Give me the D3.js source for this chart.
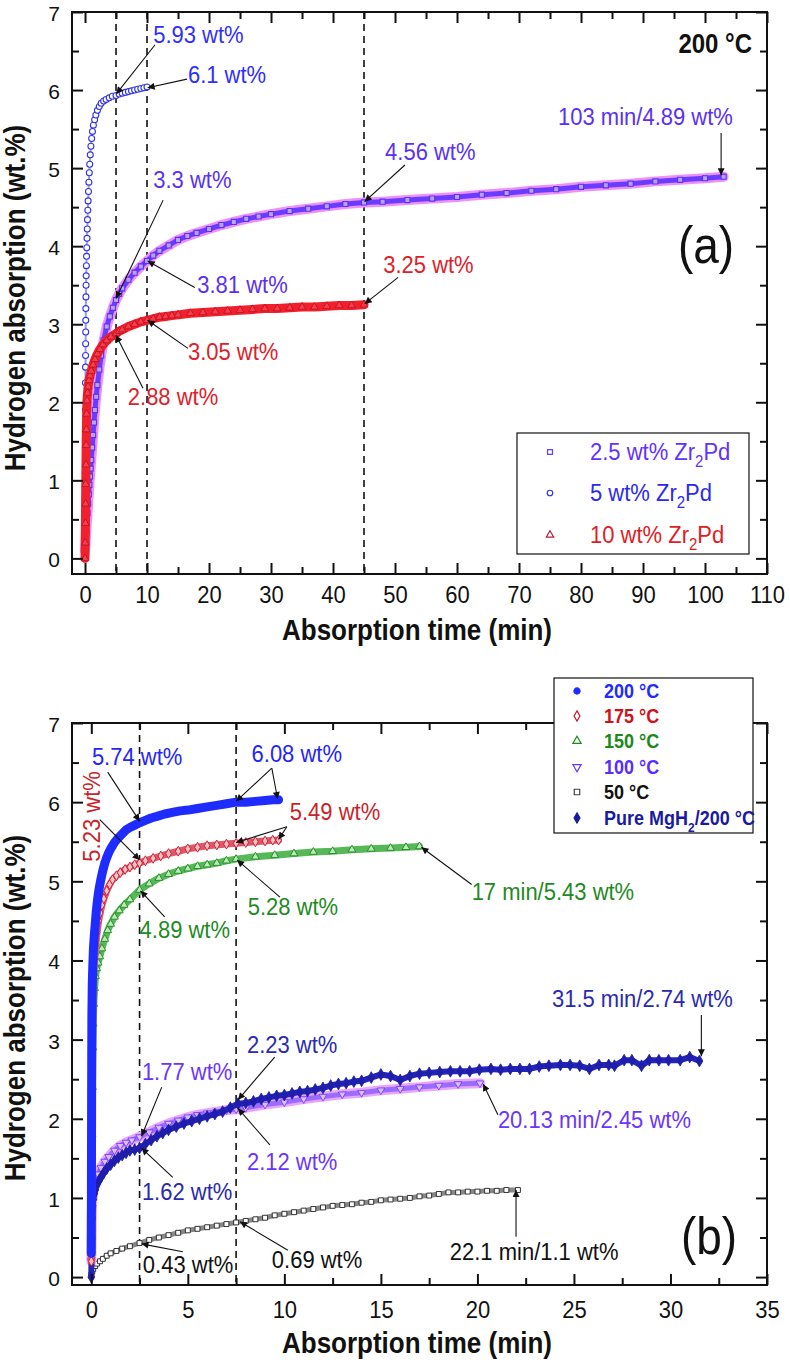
<!DOCTYPE html>
<html><head><meta charset="utf-8">
<script src="https://cdn.jsdelivr.net/npm/d3@7"></script>
<style>body{margin:0;background:#fff} svg{display:block} text{font-family:"Liberation Sans",Arial,Helvetica,sans-serif}</style>
</head><body><svg id="c" width="790" height="1362"></svg>
<script>
// ---------- DATA: panel (a) ----------
const xTicksA = [0,10,20,30,40,50,60,70,80,90,100,110];
const xMinorA = [5,15,25,35,45,55,65,75,85,95,105];
const yTicks = [0,1,2,3,4,5,6,7];
const yMinor = [0.5,1.5,2.5,3.5,4.5,5.5,6.5];
const dashA = [5,10,45];
const seriesNamesA = ["2.5 wt% Zr", "5 wt% Zr", "10 wt% Zr"];
const zr25 = [[0,0.1],[0.1,0.22],[0.2,0.34],[0.3,0.46],[0.4,0.58],[0.5,0.7],[0.6,0.82],[0.7,0.94],[0.8,1.05],[0.9,1.15],[1.0,1.26],[1.15,1.42],[1.3,1.58],[1.45,1.74],[1.6,1.9],[1.8,2.07],[2.0,2.22],[2.3,2.42],[2.6,2.6],[3.0,2.79],[3.5,2.97],[4.0,3.1],[4.5,3.21],[5.0,3.31],[5.5,3.39],[6,3.46],[7,3.57],[8,3.66],[9,3.74],[10,3.81],[11,3.88],[12,3.94],[13.5,4.01],[15,4.08],[16.5,4.13],[18,4.17],[20,4.22],[22,4.27],[24,4.31],[26,4.35],[28,4.38],[30,4.41],[33,4.45],[36,4.48],[39,4.51],[42,4.54],[45,4.56],[48,4.57],[52,4.59],[56,4.61],[60,4.63],[64,4.66],[68,4.68],[72,4.71],[76,4.73],[80,4.76],[84,4.78],[88,4.8],[92,4.83],[96,4.85],[100,4.87],[103,4.89]];
const zr5 = [[0,0.12],[0.02,0.45],[0.03,0.85],[0.04,1.1],[0.05,1.5],[0.06,1.9],[0.07,2.25],[0.08,2.45],[0.09,2.6],[0.1,2.75],[0.11,2.9],[0.12,3.05],[0.13,3.2],[0.15,3.35],[0.17,3.5],[0.19,3.62],[0.22,3.75],[0.25,3.87],[0.28,3.98],[0.32,4.1],[0.36,4.22],[0.4,4.34],[0.45,4.46],[0.5,4.58],[0.56,4.7],[0.62,4.82],[0.69,4.94],[0.76,5.05],[0.85,5.17],[0.95,5.28],[1.07,5.38],[1.2,5.47],[1.35,5.55],[1.55,5.62],[1.75,5.68],[2.0,5.74],[2.3,5.79],[2.6,5.83],[3.0,5.86],[3.4,5.88],[3.9,5.9],[4.4,5.92],[5.0,5.93],[5.5,5.95],[6.0,5.96],[6.5,5.97],[7.0,5.98],[7.5,5.99],[8.0,6.0],[8.5,6.01],[9.0,6.02],[9.5,6.03],[10.0,6.04]];
const zr10 = [[0,0],[0.03,0.2],[0.06,0.45],[0.09,0.7],[0.12,0.95],[0.15,1.2],[0.18,1.45],[0.22,1.65],[0.26,1.85],[0.32,2.02],[0.4,2.12],[0.5,2.2],[0.65,2.28],[0.8,2.34],[1.0,2.4],[1.3,2.48],[1.6,2.55],[2.0,2.62],[2.4,2.68],[2.9,2.74],[3.5,2.79],[4.2,2.84],[5.0,2.88],[5.5,2.91],[6.0,2.93],[7.0,2.97],[8.0,3.0],[9.0,3.03],[10,3.05],[11,3.07],[12,3.09],[13,3.1],[14,3.11],[15,3.12],[17,3.14],[19,3.15],[21,3.16],[23,3.17],[25,3.18],[27,3.19],[29,3.2],[31,3.2],[33,3.21],[35,3.22],[37,3.22],[39,3.23],[41,3.24],[43,3.24],[45,3.25]];

// ---------- DATA: panel (b) ----------
const xTicksB = [0,5,10,15,20,25,30,35];
const xMinorB = [2.5,7.5,12.5,17.5,22.5,27.5,32.5];
const dashB = [2.5,7.5];
const seriesNamesB = ["200 °C","175 °C","150 °C","100 °C","50 °C","Pure MgH"];
const t200 = [[0,0.3],[0.01,1.6],[0.02,2.6],[0.03,3.3],[0.05,3.7],[0.08,3.95],[0.11,4.15],[0.15,4.3],[0.2,4.45],[0.25,4.6],[0.3,4.72],[0.35,4.82],[0.4,4.9],[0.5,5.03],[0.6,5.14],[0.7,5.23],[0.8,5.3],[0.9,5.36],[1.0,5.41],[1.2,5.49],[1.4,5.55],[1.6,5.6],[1.8,5.65],[2.0,5.68],[2.25,5.71],[2.5,5.74],[2.8,5.77],[3.1,5.8],[3.4,5.82],[3.8,5.85],[4.2,5.87],[4.6,5.89],[5.0,5.9],[5.5,5.92],[6.0,5.94],[6.5,5.96],[7.0,5.98],[7.5,6.0],[8.0,6.0],[8.5,6.01],[9.0,6.02],[9.4,6.03],[9.7,6.03]];
const t175 = [[0,0.2],[0.02,1.0],[0.04,1.9],[0.06,2.7],[0.08,3.3],[0.1,3.7],[0.14,3.9],[0.18,4.02],[0.24,4.2],[0.3,4.35],[0.38,4.5],[0.46,4.6],[0.55,4.7],[0.65,4.78],[0.8,4.88],[0.95,4.96],[1.1,5.02],[1.3,5.07],[1.5,5.11],[1.75,5.15],[2.0,5.18],[2.25,5.21],[2.5,5.23],[2.8,5.26],[3.2,5.29],[3.6,5.32],[4.0,5.35],[4.5,5.38],[5.0,5.41],[5.5,5.43],[6.0,5.45],[6.5,5.46],[7.0,5.47],[7.5,5.48],[8.0,5.49],[8.5,5.5],[9.0,5.51],[9.4,5.52],[9.7,5.52]];
const t150 = [[0,0.3],[0.02,1.1],[0.04,1.8],[0.06,2.4],[0.08,2.9],[0.1,3.2],[0.13,3.45],[0.17,3.65],[0.22,3.8],[0.28,3.9],[0.35,3.97],[0.44,4.05],[0.55,4.15],[0.7,4.27],[0.85,4.38],[1.0,4.46],[1.2,4.55],[1.45,4.63],[1.7,4.7],[2.0,4.77],[2.5,4.89],[3.0,4.97],[3.5,5.04],[4.0,5.09],[4.5,5.13],[5.0,5.16],[5.5,5.19],[6.0,5.21],[6.5,5.23],[7.0,5.26],[7.5,5.28],[8.5,5.31],[9.5,5.33],[10.5,5.35],[11.5,5.37],[12.5,5.38],[13.5,5.4],[14.5,5.41],[15.5,5.42],[16.3,5.43],[17.0,5.44]];
const t100 = [[0,0.2],[0.01,0.45],[0.02,0.7],[0.03,0.85],[0.05,0.95],[0.08,1.03],[0.12,1.1],[0.18,1.17],[0.25,1.23],[0.35,1.3],[0.5,1.38],[0.7,1.46],[0.9,1.52],[1.2,1.6],[1.5,1.66],[1.8,1.7],[2.1,1.73],[2.5,1.77],[3.0,1.83],[3.5,1.89],[4.0,1.94],[4.5,1.98],[5.0,2.02],[5.5,2.05],[6.0,2.07],[6.5,2.09],[7.0,2.11],[7.5,2.12],[8.0,2.14],[9.0,2.18],[10.0,2.21],[11.0,2.25],[12.0,2.28],[13.0,2.31],[14.0,2.33],[15.0,2.36],[16.0,2.38],[17.0,2.4],[18.0,2.42],[19.0,2.44],[20.13,2.45]];
const t50 = [[0,0.03],[0.05,0.07],[0.1,0.1],[0.2,0.14],[0.3,0.17],[0.45,0.2],[0.6,0.23],[0.8,0.27],[1.0,0.3],[1.3,0.33],[1.6,0.36],[2.0,0.39],[2.5,0.43],[3.0,0.47],[3.5,0.5],[4.0,0.53],[4.5,0.56],[5.0,0.59],[5.5,0.61],[6.0,0.63],[6.5,0.65],[7.0,0.67],[7.5,0.69],[8.0,0.71],[8.5,0.73],[9.0,0.75],[9.5,0.78],[10,0.8],[10.5,0.82],[11,0.84],[11.5,0.86],[12,0.88],[12.5,0.9],[13,0.91],[13.5,0.92],[14,0.94],[14.5,0.95],[15,0.97],[15.5,0.98],[16,0.99],[16.5,1.0],[17,1.02],[17.5,1.03],[18,1.05],[18.5,1.07],[19,1.07],[19.5,1.08],[20,1.08],[20.5,1.09],[21,1.09],[21.5,1.1],[22.1,1.1]];
const mgh2 = [[0,0.0],[0.01,0.25],[0.02,0.5],[0.04,0.75],[0.07,0.9],[0.1,0.98],[0.15,1.05],[0.2,1.1],[0.3,1.17],[0.4,1.22],[0.5,1.26],[0.65,1.32],[0.8,1.37],[1.0,1.42],[1.2,1.47],[1.4,1.51],[1.6,1.54],[1.8,1.57],[2.0,1.6],[2.25,1.61],[2.5,1.63],[2.8,1.68],[3.1,1.73],[3.4,1.78],[3.7,1.82],[4.0,1.86],[4.4,1.9],[4.8,1.94],[5.2,1.97],[5.6,2.0],[6.0,2.03],[6.4,2.06],[6.8,2.09],[7.2,2.14],[7.6,2.19],[8.0,2.2],[8.4,2.22],[8.8,2.25],[9.2,2.27],[9.6,2.29],[10.0,2.3],[10.4,2.32],[10.8,2.34],[11.2,2.35],[11.6,2.37],[12.0,2.39],[12.4,2.42],[12.8,2.44],[13.2,2.45],[13.6,2.47],[14.0,2.48],[14.5,2.52],[15.0,2.56],[15.5,2.54],[16.0,2.49],[16.5,2.54],[17.0,2.57],[17.5,2.58],[18.05,2.59],[18.6,2.6],[19.1,2.6],[19.6,2.6],[20.1,2.62],[20.7,2.63],[21.2,2.62],[21.7,2.63],[22.2,2.63],[22.7,2.63],[23.2,2.66],[23.7,2.67],[24.3,2.68],[24.8,2.68],[25.3,2.67],[25.8,2.63],[26.3,2.68],[26.8,2.68],[27.1,2.67],[27.6,2.74],[28.0,2.74],[28.5,2.67],[28.9,2.74],[29.4,2.74],[29.9,2.74],[30.5,2.74],[31.0,2.78],[31.5,2.73]];

// ---------- annotations (data coordinates) ----------
const annA = [
  {txt:"5.93 wt%", col:"#2f2fff", at:[11.0,6.6], from:[11.3,6.58], to:[[5.05,5.95]]},
  {txt:"6.1 wt%", col:"#2f2fff", at:[16.6,6.09], from:[16.45,6.14], to:[[10.1,6.03]]},
  {txt:"3.3 wt%", col:"#5a30f5", at:[11.0,4.74], from:[12.6,4.59], to:[[5.0,3.33]]},
  {txt:"3.81 wt%", col:"#5a30f5", at:[18.1,3.4], from:[17.7,3.47], to:[[10.1,3.81]]},
  {txt:"4.56 wt%", col:"#5a30f5", at:[48.4,5.1], from:[51.6,5.04], to:[[45.1,4.57]]},
  {txt:"103 min/4.89 wt%", col:"#5a30f5", at:[76.3,5.55], from:[102.6,5.45], to:[[102.6,4.91]]},
  {txt:"3.25 wt%", col:"#e0202a", at:[48.1,3.65], from:[50.5,3.6], to:[[45.1,3.26]]},
  {txt:"3.05 wt%", col:"#e0202a", at:[16.6,2.54], from:[16.6,2.69], to:[[10.1,3.05]]},
  {txt:"2.88 wt%", col:"#e0202a", at:[6.9,1.96], from:[9.35,2.18], to:[[5.0,2.86]]}
];
const annB = [
  {txt:"5.74 wt%", col:"#2424ff", at:[0.03,6.47], from:[0.85,6.38], to:[[2.5,5.76]]},
  {txt:"6.08 wt%", col:"#2424ff", at:[8.3,6.51], from:[9.35,6.43], to:[[7.5,6.01],[9.65,6.04]]},
  {txt:"5.23 wt%", col:"#cc1f2a", at:[0.44,5.82], rot:true, from:[0.44,5.78], to:[[2.5,5.27]]},
  {txt:"5.49 wt%", col:"#cc1f2a", at:[10.28,5.78], from:[10.13,5.69], to:[[7.5,5.49],[9.7,5.53]]},
  {txt:"5.28 wt%", col:"#1f8a1f", at:[8.1,4.58], from:[9.77,4.8], to:[[7.55,5.27]]},
  {txt:"4.89 wt%", col:"#1f8a1f", at:[2.5,4.29], from:[3.8,4.55], to:[[2.55,4.88]]},
  {txt:"17 min/5.43 wt%", col:"#1f8a1f", at:[19.7,4.77], from:[19.7,4.96], to:[[17.1,5.43]]},
  {txt:"31.5 min/2.74 wt%", col:"#2a2ab0", at:[23.86,3.41], from:[31.6,3.31], to:[[31.6,2.79]]},
  {txt:"20.13 min/2.45 wt%", col:"#6a35ff", at:[21.06,1.88], from:[21.06,2.05], to:[[20.3,2.44]]},
  {txt:"22.1 min/1.1 wt%", col:"#111111", at:[18.57,0.21], from:[22.0,0.51], to:[[22.0,1.1]]},
  {txt:"2.23 wt%", col:"#2a2ab0", at:[8.06,2.83], from:[9.5,2.78], to:[[7.6,2.24]]},
  {txt:"1.77 wt%", col:"#6a35ff", at:[2.62,2.49], from:[3.65,2.4], to:[[2.6,1.78]]},
  {txt:"2.12 wt%", col:"#6a35ff", at:[8.06,1.35], from:[9.25,1.67], to:[[7.6,2.13]]},
  {txt:"1.62 wt%", col:"#2a2ab0", at:[2.62,0.97], from:[4.22,1.26], to:[[2.6,1.63]]},
  {txt:"0.43 wt%", col:"#111111", at:[2.67,0.05], from:[4.74,0.32], to:[[2.6,0.42]]},
  {txt:"0.69 wt%", col:"#111111", at:[9.35,0.11], from:[10.18,0.34], to:[[7.7,0.7]]}
];

// ---------- drawing ----------
const SY = 1.12; // vertical glyph stretch seen in the reference
const svg = d3.select("#c");
svg.append("rect").attr("width",790).attr("height",1362).attr("fill","#fff");
const defs = svg.append("defs");
defs.append("marker").attr("id","arr").attr("viewBox","0 0 10 10").attr("refX",10).attr("refY",5)
  .attr("markerWidth",9).attr("markerHeight",7).attr("markerUnits","userSpaceOnUse").attr("orient","auto")
  .append("path").attr("d","M0,0L10,5L0,10z").attr("fill","#111");

function label(g, x, y, txt, o) {
  const t = g.append("text").attr("transform",`translate(${x},${y})${o.rot?" rotate(-90)":""} scale(1,${SY})`)
    .attr("font-size",o.size).attr("fill",o.col||"#111").attr("text-anchor",o.anchor||"start");
  if (o.bold) t.attr("font-weight","bold");
  if (txt !== null) t.text(txt);
  return t;
}

function axes(g, x, y, xt, xm, L, T, R, B, pad) {
  const st = s => { s.select(".domain").remove(); s.selectAll("line").attr("stroke","#111").attr("stroke-width",2);
    s.selectAll("text").attr("font-size",22).attr("fill","#111").attr("transform",`scale(1,${SY})`)
      .attr("font-family","Liberation Sans, Arial, sans-serif"); };
  const stY = s => { s.select(".domain").remove(); s.selectAll("line").attr("stroke","#111").attr("stroke-width",2);
    s.selectAll("text").attr("font-size",21).attr("fill","#111").attr("dy","0.4em")
      .attr("font-family","Liberation Sans, Arial, sans-serif"); };
  g.append("g").attr("transform",`translate(0,${B})`).call(d3.axisBottom(x).tickValues(xt).tickSize(-11).tickPadding(pad).tickFormat(d3.format("d"))).call(st);
  g.append("g").attr("transform",`translate(0,${B})`).call(d3.axisBottom(x).tickValues(xm).tickSize(-7).tickFormat("")).call(st);
  g.append("g").attr("transform",`translate(0,${T})`).call(d3.axisTop(x).tickValues(xt).tickSize(-11).tickFormat("")).call(st);
  g.append("g").attr("transform",`translate(0,${T})`).call(d3.axisTop(x).tickValues(xm).tickSize(-7).tickFormat("")).call(st);
  g.append("g").attr("transform",`translate(${L},0)`).call(d3.axisLeft(y).tickValues(yTicks).tickSize(-11).tickPadding(12).tickFormat(d3.format("d"))).call(stY);
  g.append("g").attr("transform",`translate(${L},0)`).call(d3.axisLeft(y).tickValues(yMinor).tickSize(-7).tickFormat("")).call(st);
  g.append("g").attr("transform",`translate(${R},0)`).call(d3.axisRight(y).tickValues(yTicks).tickSize(-11).tickFormat("")).call(st);
  g.append("g").attr("transform",`translate(${R},0)`).call(d3.axisRight(y).tickValues(yMinor).tickSize(-7).tickFormat("")).call(st);
  g.append("rect").attr("x",L).attr("y",T).attr("width",R-L).attr("height",B-T).attr("fill","none").attr("stroke","#111").attr("stroke-width",2);
}

function series(g, x, y, data, o) {
  const line = d3.line().x(d=>x(d[0])).y(d=>y(d[1]));
  (o.bands||[]).forEach(b => g.append("path").attr("d",line(data)).attr("fill","none").attr("stroke",b[0]).attr("stroke-width",b[1])
      .attr("stroke-linejoin","round").attr("stroke-linecap","round").attr("opacity",b[2]||1));
  g.append("g").selectAll("path").data(data).join("path")
    .attr("transform",d=>`translate(${x(d[0])},${y(d[1])}) rotate(${o.rot||0})`)
    .attr("d", d3.symbol(o.sym, o.size)())
    .attr("fill",o.fill).attr("stroke",o.stroke).attr("stroke-width",o.sw||1);
}

function dashes(g, x, vals, T, B) {
  g.selectAll(null).data(vals).join("line").attr("x1",d=>x(d)).attr("x2",d=>x(d)).attr("y1",T).attr("y2",B)
    .attr("stroke","#111").attr("stroke-width",1.6).attr("stroke-dasharray","7,5");
}

function annotate(g, x, y, list) {
  list.forEach(a => {
    a.to.forEach(p => g.append("line").attr("x1",x(a.from[0])).attr("y1",y(a.from[1])).attr("x2",x(p[0])).attr("y2",y(p[1]))
      .attr("stroke","#111").attr("stroke-width",1.1).attr("marker-end","url(#arr)"));
    label(g, x(a.at[0]), y(a.at[1]), a.txt, {size:22, col:a.col, rot:a.rot, anchor:a.rot?"middle":"start"});
  });
}

function subText(sel, parts, subSize) {
  parts.forEach((p,i) => {
    const ts = sel.append("tspan").text(p);
    if (i % 2 === 1) ts.attr("font-size",subSize).attr("dy",6);
    else if (i > 0) ts.attr("dy",-6);
  });
}

// ===== Panel (a) =====
const LA=72, TA=12, RA=767, BA=574;
const xA = d3.scaleLinear().domain([-2.1,110]).range([LA,RA]);
const yA = d3.scaleLinear().domain([-0.2,7]).range([BA,TA]);
const gA = svg.append("g");
dashes(gA, xA, dashA, TA, BA);
series(gA, xA, yA, zr5, {sym:d3.symbolCircle, size:28, fill:"#fff", stroke:"#3535e6", sw:1.1, bands:[["#3535e6",2,0.5]]});
series(gA, xA, yA, zr25, {sym:d3.symbolSquare, size:26, fill:"#b9a2ff", stroke:"#5b30f0", sw:1.1, bands:[["#ee90ff",10],["#6a3cff",5]]});
series(gA, xA, yA, zr10, {sym:d3.symbolTriangle, size:26, fill:"#f04050", stroke:"#c8101e", sw:0.9, bands:[["#f0202c",9]]});
axes(gA, xA, yA, xTicksA, xMinorA, LA, TA, RA, BA, 10.5);
annotate(gA, xA, yA, annA);
label(gA, 752, 53, "200 °C", {size:24, bold:true, anchor:"end"});
label(gA, 706, 263, "(a)", {size:46, anchor:"middle"});
label(gA, 417, 640, "Absorption time (min)", {size:26, bold:true, anchor:"middle"});
label(gA, 25, 298, "Hydrogen absorption (wt.%)", {size:26, bold:true, anchor:"middle", rot:true});
// legend (a)
const legA = gA.append("g");
legA.append("rect").attr("x",517).attr("y",433).attr("width",232).attr("height",121).attr("fill","#fff").attr("stroke","#111").attr("stroke-width",1.2);
const legAItems = [
  {name:seriesNamesA[0], col:"#6232ff", sym:d3.symbolSquare, stroke:"#6a3cff", y:452},
  {name:seriesNamesA[1], col:"#2b2bf0", sym:d3.symbolCircle, stroke:"#3535e6", y:493},
  {name:seriesNamesA[2], col:"#e01c24", sym:d3.symbolTriangle, stroke:"#b02040", y:535}
];
legAItems.forEach(it => {
  legA.append("path").attr("transform",`translate(550,${it.y})`).attr("d",d3.symbol(it.sym,24)()).attr("fill","#fff").attr("stroke",it.stroke).attr("stroke-width",1.2);
  const t = label(legA, 590, it.y + 8, null, {size:22, col:it.col});
  subText(t, [it.name,"2","Pd"], 15);
});

// ===== Panel (b) =====
const LB=72, TB=723, RB=767, BB=1285;
const xB = d3.scaleLinear().domain([-1.0,35]).range([LB,RB]);
const yB = d3.scaleLinear().domain([-0.1,7]).range([BB,TB]);
const gB = svg.append("g");
dashes(gB, xB, dashB, TB, BB);
series(gB, xB, yB, t50, {sym:d3.symbolSquare, size:24, fill:"#fff", stroke:"#222", sw:0.9, bands:[["#888",5]]});
series(gB, xB, yB, t100, {sym:d3.symbolTriangle, rot:180, size:26, fill:"#d9c2ff", stroke:"#7a3cff", sw:0.9, bands:[["#e9a6ff",10],["#9a6cff",5]]});
series(gB, xB, yB, mgh2, {sym:d3.symbolDiamond, size:40, fill:"#1e1eaa", stroke:"#1e1eaa", sw:0.8, bands:[["#2424b8",6]]});
series(gB, xB, yB, t150, {sym:d3.symbolTriangle, size:26, fill:"#bfe8bf", stroke:"#1f8a1f", sw:0.9, bands:[["#56b856",7]]});
series(gB, xB, yB, t175, {sym:d3.symbolDiamond, size:28, fill:"#f4c0c8", stroke:"#c8182a", sw:0.9, bands:[["#e05868",7]]});
series(gB, xB, yB, t200, {sym:d3.symbolCircle, size:30, fill:"#1f2cff", stroke:"#1f2cff", sw:1, bands:[["#1f2cff",9]]});
axes(gB, xB, yB, xTicksB, xMinorB, LB, TB, RB, BB, 13.5);
annotate(gB, xB, yB, annB);
label(gB, 709, 1254, "(b)", {size:46, anchor:"middle"});
label(gB, 417, 1353, "Absorption time (min)", {size:26, bold:true, anchor:"middle"});
label(gB, 25, 1008, "Hydrogen absorption (wt.%)", {size:26, bold:true, anchor:"middle", rot:true});
// legend (b)
const legB = gB.append("g");
legB.append("rect").attr("x",554).attr("y",678).attr("width",199).attr("height",155).attr("fill","#fff").attr("stroke","#111").attr("stroke-width",1.2);
const legBItems = [
  {col:"#1f2cff", sym:d3.symbolCircle, fill:"#1f2cff", stroke:"#1f2cff", rot:0, y:691},
  {col:"#d0101a", sym:d3.symbolDiamond, fill:"#fff", stroke:"#c8182a", rot:0, y:716},
  {col:"#1a8a1a", sym:d3.symbolTriangle, fill:"#fff", stroke:"#1f8a1f", rot:0, y:741},
  {col:"#5a2dff", sym:d3.symbolTriangle, fill:"#fff", stroke:"#6a35ff", rot:180, y:767},
  {col:"#111111", sym:d3.symbolSquare, fill:"#fff", stroke:"#444", rot:0, y:792},
  {col:"#1a1aa0", sym:d3.symbolDiamond, fill:"#1a1aa0", stroke:"#1a1aa0", rot:0, y:818}
];
legBItems.forEach((it,i) => {
  legB.append("path").attr("transform",`translate(577,${it.y}) rotate(${it.rot})`).attr("d",d3.symbol(it.sym,30)()).attr("fill",it.fill).attr("stroke",it.stroke).attr("stroke-width",1.2);
  const t = label(legB, 604, it.y + 7, null, {size:18, bold:true, col:it.col});
  if (i < 5) t.text(seriesNamesB[i]);
  else subText(t, [seriesNamesB[i],"2","/200 °C"], 12);
});
</script></body></html>
